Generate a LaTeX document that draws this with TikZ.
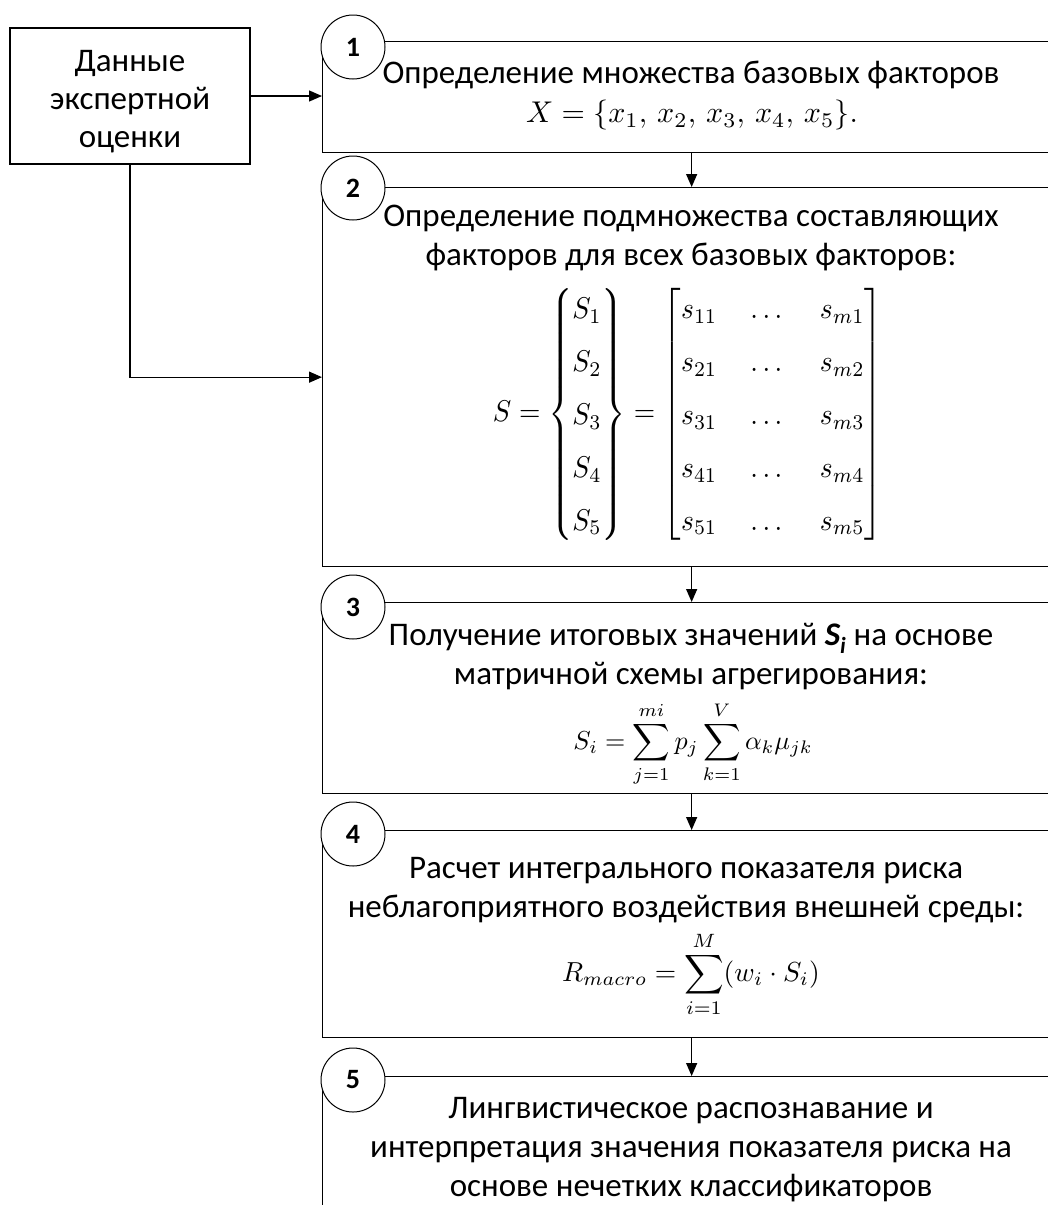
\documentclass[tikz,border=0pt]{standalone}
\usepackage{amsmath}
\usepackage{graphicx}
\usepackage{fontspec}
\setmainfont{Carlito}
\usetikzlibrary{arrows.meta}
\begin{document}
\begin{tikzpicture}[x=1pt,y=-1pt,
  line width=1.3pt,
  box/.style={draw, rectangle, inner sep=0pt, anchor=north west},
  num/.style={draw, circle, fill=white, minimum size=64pt, inner sep=0pt, line width=1pt,
              font=\fontsize{28}{30}\selectfont\bfseries},
  txt/.style={align=center, font=\fontsize{33}{39}\selectfont, inner sep=0pt},
  mth/.style={inner sep=0pt},
  arr/.style={-{Triangle[length=13pt,width=11pt]}},
]
\clip (0,0) rectangle (1048,1205);
% source box
\node[draw, rectangle, minimum width=240pt, minimum height=136pt, align=center,
      font=\fontsize{33}{38}\selectfont] (src) at (130,96) {\rule{0pt}{32pt}Данные\\экспертной\\оценки};
% step boxes
\node[box, minimum width=738pt, minimum height=111pt] (b1) at (322,41) {};
\node[box, minimum width=738pt, minimum height=379pt] (b2) at (322,187) {};
\node[box, minimum width=738pt, minimum height=191pt] (b3) at (322,602) {};
\node[box, minimum width=738pt, minimum height=207pt] (b4) at (322,830) {};
\node[box, minimum width=738pt, minimum height=180pt] (b5) at (322,1076) {};
% connectors
\draw[arr] (src.east) -- (src.east -| b1.west);
\draw[arr] (src.south) |- (b2.west);
\draw[arr] (b1.south) -- (b2.north);
\draw[arr] (b2.south) -- (b3.north);
\draw[arr] (b3.south) -- (b4.north);
\draw[arr] (b4.south) -- (b5.north);
% number circles
\node[num] (c1) at (353,47) {1};
\node[num] (c2) at (353,188) {2};
\node[num] (c3) at (353,607) {3};
\node[num] (c4) at (353,834) {4};
\node[num] (c5) at (353,1080) {5};
% texts
\node[txt] (t1) at (691,75) {Определение множества базовых факторов};
\node[mth] (f1) at (692,115) {\scalebox{3}{$X = \{x_1,\, x_2,\, x_3,\, x_4,\, x_5\}.$}};
\node[txt] (t2) at (691,238) {Определение подмножества составляющих\\факторов для всех базовых факторов:};
\node[mth] (f2) at (688,414)
 {\scalebox{2.75}[3]{$\renewcommand\arraystretch{1.47}\setlength\arraycolsep{6pt}
   S = \begin{Bmatrix} S_1\\ S_2\\ S_3\\ S_4\\ S_5\end{Bmatrix}
   = \begin{bmatrix} s_{11} & \dots & s_{m1}\\ s_{21} & \dots & s_{m2}\\ s_{31} & \dots & s_{m3}\\
   s_{41} & \dots & s_{m4}\\ s_{51} & \dots & s_{m5}\end{bmatrix}$}};
\node[txt] (t3) at (691,657) {Получение итоговых значений \textbf{\textit{S\textsubscript{i}}} на основе\\матричной схемы агрегирования:};
\node[mth] (f3) at (693,744)
 {\scalebox{2.6}{$\displaystyle S_i = \sum_{j=1}^{mi} p_j \sum_{k=1}^{V} \alpha_k \mu_{jk}$}};
\node[txt] (t4) at (686,890) {Расчет интегрального показателя риска\\неблагоприятного воздействия внешней среды:};
\node[mth] (f4) at (691,974)
 {\scalebox{2.75}{$\displaystyle R_{macro} = \sum_{i=1}^{M} (w_i \cdot S_i)$}};
\node[txt] (t5) at (691,1150) {Лингвистическое распознавание и\\интерпретация значения показателя риска на\\основе нечетких классификаторов};
\end{tikzpicture}
\end{document}
